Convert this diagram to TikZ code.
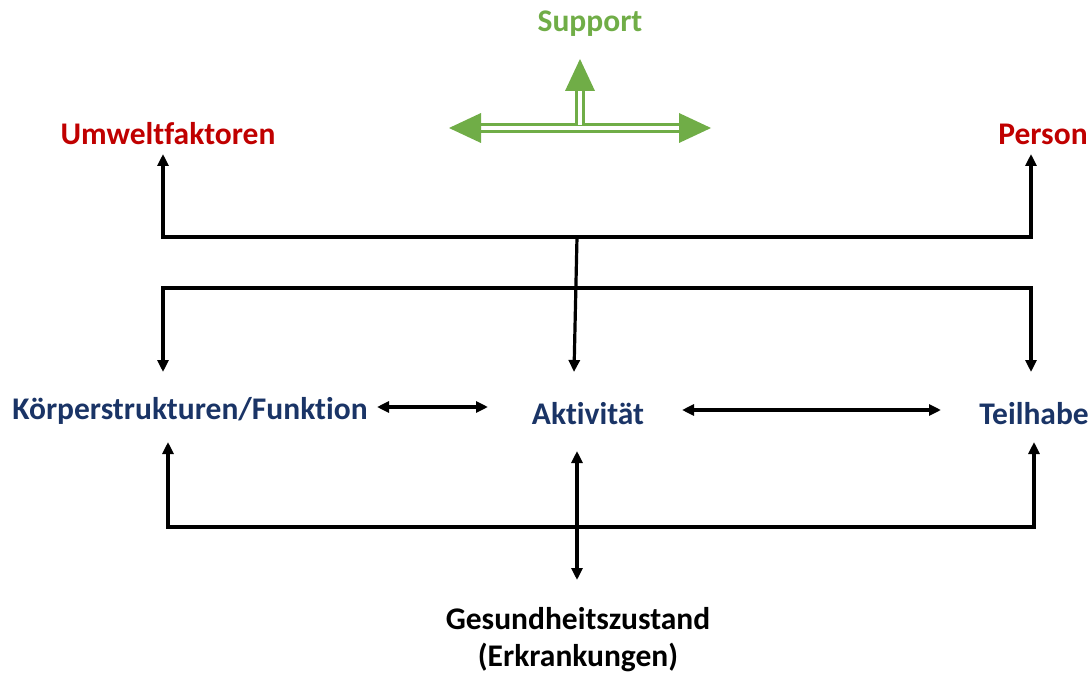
\documentclass[tikz,border=0pt]{standalone}
\usepackage{fontspec}
\setmainfont[Ligatures=NoCommon]{Carlito}
\usetikzlibrary{arrows.meta}
\definecolor{navy}{HTML}{1A3466}
\definecolor{dred}{HTML}{C00000}
\definecolor{sgreen}{HTML}{70AD47}
\begin{document}
\begin{tikzpicture}[x=1pt,y=-1pt,
  lbl/.style={font=\bfseries\fontsize{31.5}{37}\selectfont, inner sep=0pt},
  blk/.style={line width=3.2pt, black},
  tipA/.style={-{Triangle[length=12pt,width=11pt]}},
  tipB/.style={{Triangle[length=12pt,width=11pt]}-{Triangle[length=12pt,width=11pt]}},
  gline/.style={draw=sgreen, line width=3pt, double=white, double distance=3.5pt},
  ghead/.style={fill=sgreen, draw=none}]
\useasboundingbox (0,0) rectangle (1090,674);
% labels
\node[lbl, text=sgreen] (support) at (590,24) {Support};
\node[lbl, text=dred] (umw) at (168,134) {Umweltfaktoren};
\node[lbl, text=dred] (person) at (1043,134) {Person};
\node[lbl, text=navy] (koerper) at (190,411) {Körperstrukturen/Funktion};
\node[lbl, text=navy] (akt) at (588,414) {Aktivität};
\node[lbl, text=navy] (teil) at (1034,414) {Teilhabe};
\node[lbl, text=black, align=center] (ges) at (578,640) {Gesundheitszustand\\(Erkrankungen)};
% green support symbol
\coordinate (gL) at (480,128);
\coordinate (gR) at (680,128);
\coordinate (gM) at (580,125);
\coordinate (gT) at (580,90);
\draw[gline] (gL) -- (gR);
\draw[gline] (gM) -- (gT);
\fill[ghead] (449,128) -- (481,113) -- (481,143) -- cycle;
\fill[ghead] (711,128) -- (679,113) -- (679,143) -- cycle;
\fill[ghead] (580,59) -- (565,91) -- (595,91) -- cycle;
% upper system
\coordinate (u1) at (163,237);
\coordinate (u2) at (1031,237);
\coordinate (l1) at (163,288);
\coordinate (l2) at (1031,288);
\coordinate (uM) at (577,237);
\coordinate (umwA) at (163,154);
\coordinate (perA) at (1031,154);
\coordinate (korA) at (163,372);
\coordinate (teiA) at (1031,372);
\coordinate (aktA) at (574,372);
\draw[blk, tipA] (u2) -- (u1) -- (umwA);
\draw[blk, tipA] (u1) -- (u2) -- (perA);
\draw[blk, tipA] (l2) -- (l1) -- (korA);
\draw[blk, tipA] (l1) -- (l2) -- (teiA);
\draw[blk, tipA] (uM) -- (aktA);
% horizontal double arrows
\coordinate (h1a) at (377,407);
\coordinate (h1b) at (488,407);
\coordinate (h2a) at (682,410);
\coordinate (h2b) at (941,410);
\draw[blk, tipB] (h1a) -- (h1b);
\draw[blk, tipB] (h2a) -- (h2b);
% lower system
\coordinate (b1) at (168,527);
\coordinate (b2) at (1034,527);
\coordinate (korB) at (168,442);
\coordinate (teiB) at (1034,442);
\coordinate (aktB) at (577,451);
\coordinate (gesA) at (577,580);
\draw[blk, tipA] (b2) -- (b1) -- (korB);
\draw[blk, tipA] (b1) -- (b2) -- (teiB);
\draw[blk, tipB] (aktB) -- (gesA);
\end{tikzpicture}
\end{document}
